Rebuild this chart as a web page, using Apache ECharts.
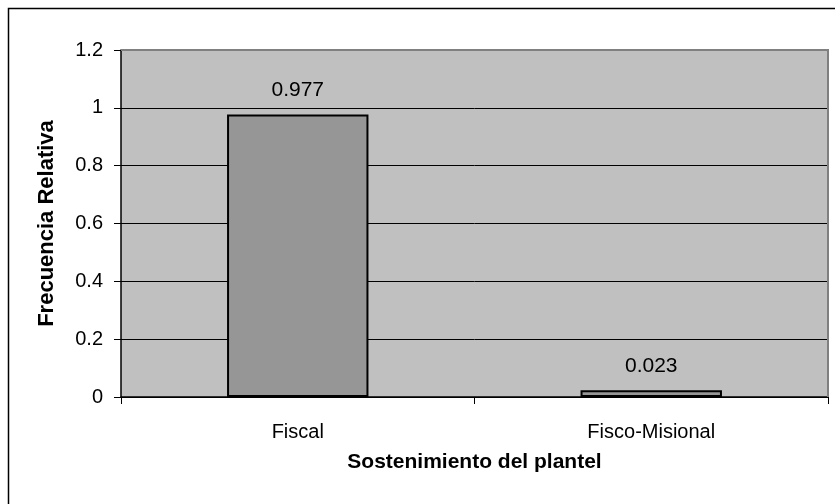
<!DOCTYPE html>
<html><head><meta charset="utf-8">
<script src="https://cdn.jsdelivr.net/npm/echarts@6/dist/echarts.min.js"></script>
<style>html,body{margin:0;padding:0;background:#fff}#c{width:835px;height:504px}</style>
</head><body><div id="c"></div>
<script>
var categories = ["Fiscal", "Fisco-Misional"];
var values = [0.977, 0.023];
var yTicks = [0, 0.2, 0.4, 0.6, 0.8, 1, 1.2];

var chart = echarts.init(document.getElementById('c'), null, {renderer: 'canvas'});
var font = 'Liberation Sans, Arial, sans-serif';
chart.setOption({
  animation: false,
  backgroundColor: '#ffffff',
  graphic: [
    {type: 'rect', shape: {x: 8.5, y: 8.5, width: 840, height: 520}, style: {fill: 'none', stroke: '#000', lineWidth: 1.5}, z: 100},
    {type: 'polyline', shape: {points: [[121, 50], [828, 50], [828, 397]]}, style: {fill: 'none', stroke: '#808080', lineWidth: 2}, z: 100}
  ],
  grid: {left: 121, top: 50, width: 707, height: 347, show: true, backgroundColor: '#c0c0c0', borderWidth: 0},
  xAxis: {
    type: 'category', data: categories,
    axisLine: {lineStyle: {color: '#000', width: 1.5}},
    axisTick: {show: true, length: 7, alignWithLabel: false, lineStyle: {color: '#000'}},
    axisLabel: {color: '#000', fontSize: 20, fontFamily: font, margin: 25},
    name: 'Sostenimiento del plantel', nameLocation: 'middle', nameGap: 55,
    nameTextStyle: {color: '#000', fontSize: 21, fontWeight: 'bold', fontFamily: font}
  },
  yAxis: {
    type: 'value', min: 0, max: 1.2, interval: 0.2,
    axisLine: {show: true, lineStyle: {color: '#000', width: 1.5}},
    axisTick: {show: true, length: 7, lineStyle: {color: '#000'}},
    splitLine: {lineStyle: {color: '#000', width: 1}},
    axisLabel: {color: '#000', fontSize: 20, fontFamily: font, margin: 18,
      formatter: function (v) { var r = yTicks.filter(function(t){return Math.abs(t-v)<1e-9;}); return r.length ? String(Math.round(r[0]*10)/10) : ''; }},
    name: 'Frecuencia Relativa', nameLocation: 'middle', nameGap: 63, nameRotate: 90,
    nameTextStyle: {color: '#000', fontSize: 22, fontWeight: 'bold', fontFamily: font}
  },
  series: [{
    type: 'bar', data: values, barWidth: '40%',
    itemStyle: {color: '#969696', borderColor: '#000', borderWidth: 2},
    label: {show: true, position: 'top', distance: 14, color: '#000', fontSize: 21, fontFamily: font,
      formatter: function (p) { return p.value.toFixed(3); }}
  }]
});
</script></body></html>
